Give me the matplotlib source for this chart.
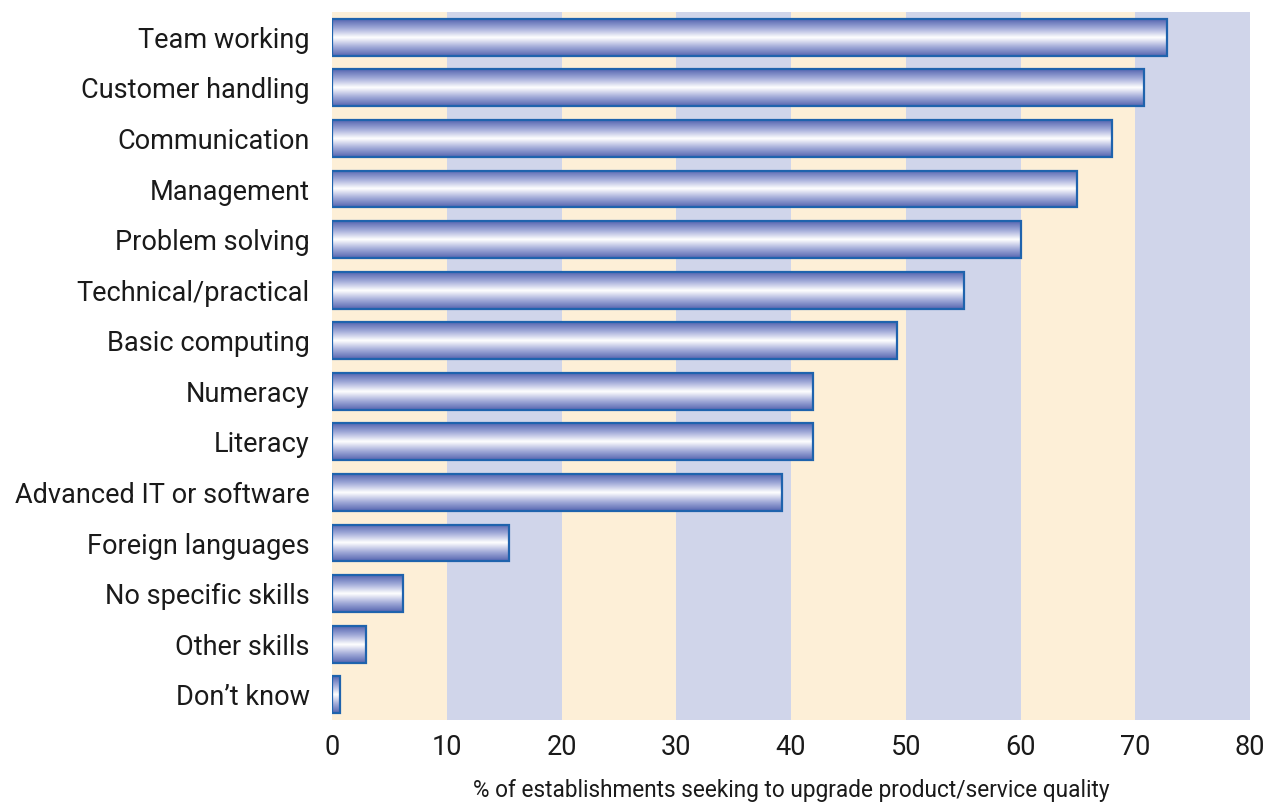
import numpy as np
import matplotlib
matplotlib.use('Agg')
from matplotlib import pyplot as plt
from matplotlib.colors import LinearSegmentedColormap

skills = ['Team working', 'Customer handling', 'Communication', 'Management',
          'Problem solving', 'Technical/practical', 'Basic computing', 'Numeracy',
          'Literacy', 'Advanced IT or software', 'Foreign languages',
          'No specific skills', 'Other skills', 'Don\u2019t know']
pct = [72.8, 70.8, 68.0, 64.9, 60.0, 55.1, 49.2, 41.9, 41.9, 39.2, 15.4, 6.2, 3.0, 0.7]

plt.rcParams['font.family'] = ['Roboto', 'DejaVu Sans']

fig = plt.figure(figsize=(12.78, 8.02), dpi=100)
ax = fig.add_axes([0.2598, 0.1022, 0.7183, 0.8828])

# alternating background bands
band_cols = ['#fdefd7', '#d0d5ea']
for i, x0 in enumerate(range(0, 80, 10)):
    ax.axvspan(x0, x0 + 10, color=band_cols[i % 2], lw=0, zorder=0)

# metallic look: blue at the edges, white in the middle
cmap = LinearSegmentedColormap.from_list('tube', ['#5565b0', '#a3acd9', '#ffffff', '#a3acd9', '#5565b0'])
grad = np.linspace(0, 1, 256).reshape(-1, 1)

y = np.arange(len(skills))
h = 0.73
for yi, v in zip(y, pct):
    ax.imshow(grad, cmap=cmap, aspect='auto', extent=(0, v, yi + h / 2, yi - h / 2),
              interpolation='bilinear', zorder=2)
ax.barh(y, pct, height=h, fill=False, edgecolor='#1f63ad', linewidth=1.6, zorder=3)

ax.set_xlim(0, 80)
ax.set_ylim(len(skills) - 0.5, -0.5)
ax.set_yticks(y)
ax.set_yticklabels(skills, fontsize=19.5, color='#1a1a1a')
ax.set_xticks(range(0, 81, 10))
ax.tick_params(axis='x', labelsize=19.5, length=0, pad=10, labelcolor='#1a1a1a')
ax.tick_params(axis='y', length=0, pad=16)
for s in ax.spines.values():
    s.set_visible(False)
ax.set_xlabel('% of establishments seeking to upgrade product/service quality',
              fontsize=16.3, labelpad=13, color='#1a1a1a')

plt.savefig('out.png', dpi=100)
